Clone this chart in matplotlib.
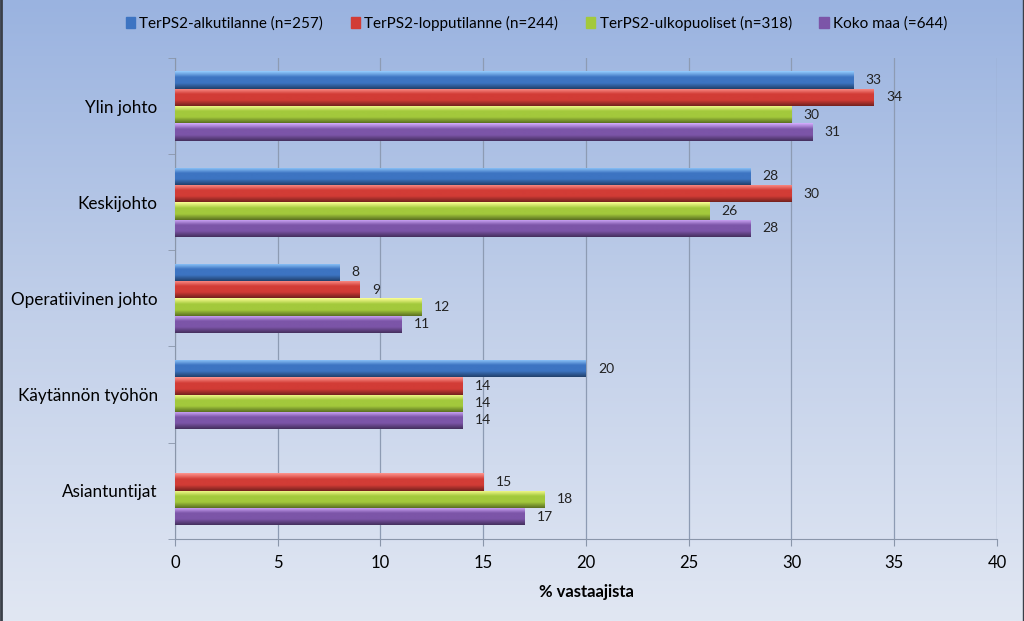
import matplotlib
matplotlib.use("Agg")
import matplotlib.pyplot as plt
import numpy as np
from matplotlib.colors import LinearSegmentedColormap, to_rgb

categories = ["Ylin johto", "Keskijohto", "Operatiivinen johto", "Käytännön työhön", "Asiantuntijat"]
series_names = ["TerPS2-alkutilanne (n=257)", "TerPS2-lopputilanne (n=244)",
                "TerPS2-ulkopuoliset (n=318)", "Koko maa (=644)"]
alku = [33, 28, 8, 20, None]
loppu = [34, 30, 9, 14, 15]
ulko = [30, 26, 12, 14, 18]
koko = [31, 28, 11, 14, 17]
values = [alku, loppu, ulko, koko]
colors = ["#3d74c2", "#d23c36", "#a3c93c", "#7c55a8"]
xticks = [0, 5, 10, 15, 20, 25, 30, 35, 40]

plt.rcParams['font.family'] = ['Lato', 'DejaVu Sans']

fig = plt.figure(figsize=(10.24, 6.21), dpi=100)

# background gradient
bg = fig.add_axes([0, 0, 1, 1], zorder=-10)
grad = np.linspace(0, 1, 256).reshape(-1, 1)
bg_cmap = LinearSegmentedColormap.from_list("bg", ["#9ab3e0", "#c1cfe9", "#e1e7f3"])
bg.imshow(grad, aspect="auto", cmap=bg_cmap, extent=[0, 1, 0, 1])
bg.plot([0.001, 0.001], [0, 1], color="#3a3f48", lw=2)
bg.plot([0.999, 0.999], [0, 1], color="#3a3f48", lw=1)
bg.set_xlim(0, 1)
bg.set_ylim(0, 1)
bg.axis("off")

ax = fig.add_axes([0.1709, 0.1325, 0.8027, 0.7741])
ax.patch.set_alpha(0)

bh = 0.18
y = np.arange(len(categories))
for i, (vals, c) in enumerate(zip(values, colors)):
    pos = y - 1.5 * bh + i * bh
    v = [0 if val is None else val for val in vals]
    bars = ax.barh(pos, v, height=bh, color=c, edgecolor="none", zorder=3)
    base = np.array(to_rgb(c))
    light = np.clip(base + 0.35, 0, 1)
    dark = base * 0.55
    cmap = LinearSegmentedColormap.from_list("b%d" % i, [light, base, base, dark])
    for bar, val in zip(bars, vals):
        if val is None:
            continue
        x0, y0 = bar.get_x(), bar.get_y()
        w, h = bar.get_width(), bar.get_height()
        im = ax.imshow(np.linspace(0, 1, 64).reshape(-1, 1), cmap=cmap, aspect="auto",
                       extent=[x0, x0 + w, y0 + h, y0], zorder=4, interpolation="bilinear")
        im.set_clip_path(bar)
        ax.text(x0 + w + 0.6, y0 + h / 2, str(val), va="center", ha="left",
                fontsize=10, color="#222222", zorder=5)

ax.set_xlim(0, 40)
ax.set_ylim(len(categories) - 0.5, -0.5)
ax.set_xticks(xticks)
ax.set_xticklabels([str(t) for t in xticks], fontsize=12)
ax.set_yticks(y)
ax.set_yticklabels(categories, fontsize=12.3)
ax.set_yticks(np.arange(-0.5, len(categories), 1), minor=True)
ax.tick_params(axis="y", which="major", length=0, pad=12.5)
ax.tick_params(axis="y", which="minor", length=5, color="#8a96aa")
ax.tick_params(axis="x", length=5, color="#8a96aa", pad=7)
ax.grid(axis="x", color="#8d9bb3", lw=0.9, zorder=0)
for s in ["top", "right"]:
    ax.spines[s].set_visible(False)
ax.spines["left"].set_color("#8a96aa")
ax.spines["bottom"].set_color("#8a96aa")
ax.set_xlabel("% vastaajista", fontsize=12, fontweight="bold", labelpad=9)

handles = [plt.Rectangle((0, 0), 1, 1, color=c) for c in colors]
fig.legend(handles, series_names, loc="center", bbox_to_anchor=(0.524, 0.962), ncol=4,
           frameon=False, fontsize=11, handlelength=0.6, handleheight=0.7,
           handletextpad=0.3, columnspacing=1.8)

fig.savefig("out.png", dpi=100)
